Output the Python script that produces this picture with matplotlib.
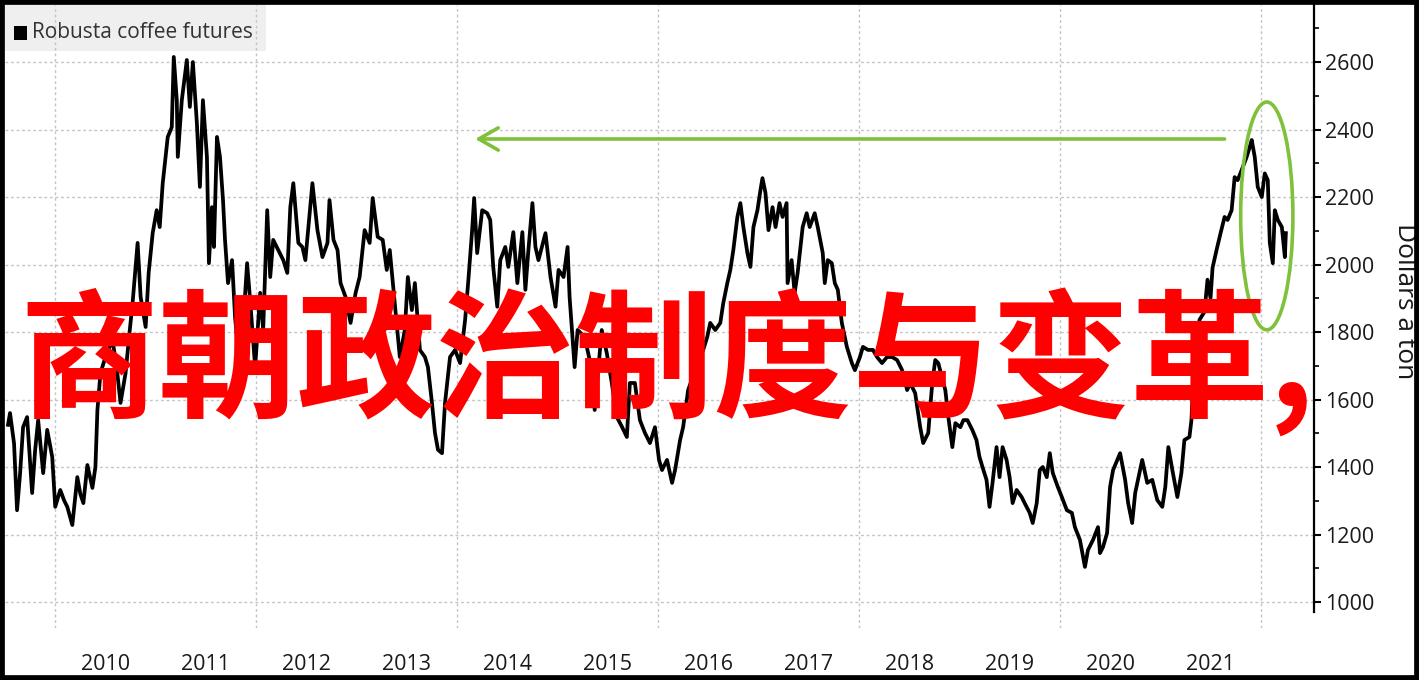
import matplotlib.pyplot as plt
from matplotlib.patches import Rectangle, Ellipse
from matplotlib.ticker import MultipleLocator

# ------------------------------
# 1. Data
# ------------------------------
years = [
    2009.53, 2009.55, 2009.59, 2009.62, 2009.65, 2009.68, 2009.72, 2009.77, 2009.80, 2009.83,
    2009.88, 2009.92, 2009.97, 2010.00, 2010.05, 2010.09, 2010.12, 2010.17, 2010.22, 2010.25,
    2010.28, 2010.32, 2010.37, 2010.40, 2010.42, 2010.45, 2010.50, 2010.57, 2010.61, 2010.65,
    2010.70, 2010.74, 2010.77, 2010.82, 2010.85, 2010.90, 2010.93, 2010.97, 2011.01, 2011.04,
    2011.07, 2011.12, 2011.16, 2011.18, 2011.21, 2011.22, 2011.26, 2011.31, 2011.34, 2011.37,
    2011.41, 2011.44, 2011.47, 2011.51, 2011.53, 2011.56, 2011.58, 2011.61, 2011.64, 2011.67,
    2011.69, 2011.72, 2011.76, 2011.79, 2011.82, 2011.87, 2011.91, 2011.94, 2011.99, 2012.04,
    2012.07, 2012.11, 2012.14, 2012.17, 2012.22, 2012.27, 2012.31, 2012.34, 2012.37, 2012.42,
    2012.46, 2012.49, 2012.56, 2012.61, 2012.66, 2012.71, 2012.73, 2012.77, 2012.81, 2012.84,
    2012.89, 2012.94, 2012.99, 2013.03, 2013.08, 2013.13, 2013.16, 2013.21, 2013.26, 2013.30,
    2013.33, 2013.38, 2013.43, 2013.48, 2013.51, 2013.55, 2013.58, 2013.63, 2013.68, 2013.71,
    2013.75, 2013.78, 2013.81, 2013.85, 2013.88, 2013.93, 2013.98, 2014.03, 2014.08, 2014.11,
    2014.15, 2014.17, 2014.20, 2014.25, 2014.30, 2014.33, 2014.36, 2014.40, 2014.43, 2014.48,
    2014.51, 2014.56, 2014.60, 2014.65, 2014.68, 2014.71, 2014.75, 2014.78, 2014.81, 2014.88,
    2014.93, 2014.98, 2015.01, 2015.06, 2015.10, 2015.12, 2015.17, 2015.20, 2015.27, 2015.32,
    2015.37, 2015.44, 2015.49, 2015.54, 2015.59, 2015.64, 2015.69, 2015.72, 2015.77, 2015.82,
    2015.87, 2015.92, 2015.97, 2016.01, 2016.04, 2016.09, 2016.14, 2016.17, 2016.22, 2016.25,
    2016.30, 2016.37, 2016.45, 2016.49, 2016.52, 2016.57, 2016.62, 2016.65, 2016.69, 2016.72,
    2016.75, 2016.79, 2016.82, 2016.85, 2016.89, 2016.92, 2016.95, 2016.99, 2017.02, 2017.04,
    2017.07, 2017.10, 2017.14, 2017.17, 2017.21, 2017.24, 2017.28, 2017.29, 2017.33, 2017.36,
    2017.39, 2017.44, 2017.48, 2017.51, 2017.56, 2017.59, 2017.64, 2017.66, 2017.69, 2017.73,
    2017.76, 2017.79, 2017.83, 2017.88, 2017.93, 2017.96, 2018.01, 2018.04, 2018.09, 2018.14,
    2018.18, 2018.23, 2018.28, 2018.33, 2018.38, 2018.43, 2018.48, 2018.51, 2018.56, 2018.61,
    2018.64, 2018.69, 2018.73, 2018.76, 2018.79, 2018.86, 2018.89, 2018.93, 2018.96, 2019.01,
    2019.04, 2019.08, 2019.13, 2019.17, 2019.20, 2019.23, 2019.27, 2019.30, 2019.33, 2019.37,
    2019.40, 2019.43, 2019.47, 2019.50, 2019.53, 2019.57, 2019.62, 2019.65, 2019.70, 2019.73,
    2019.77, 2019.80, 2019.83, 2019.87, 2019.90, 2019.93, 2019.98, 2020.02, 2020.07, 2020.12,
    2020.15, 2020.20, 2020.25, 2020.28, 2020.33, 2020.38, 2020.40, 2020.43, 2020.47, 2020.50,
    2020.53, 2020.60, 2020.65, 2020.68, 2020.72, 2020.75, 2020.82, 2020.87, 2020.92, 2020.97,
    2021.02, 2021.05, 2021.08, 2021.12, 2021.17, 2021.21, 2021.24, 2021.29, 2021.31, 2021.34,
    2021.39, 2021.44, 2021.47, 2021.50, 2021.52, 2021.56, 2021.60, 2021.64, 2021.67, 2021.71,
    2021.74, 2021.77, 2021.81, 2021.86, 2021.89, 2021.91, 2021.94, 2021.97, 2022.01, 2022.04,
    2022.07, 2022.09, 2022.12, 2022.14, 2022.17, 2022.21, 2022.24, 2022.25,
]

prices = [
    1525, 1560, 1470, 1272, 1380, 1518, 1548, 1323, 1450, 1539,
    1382, 1510, 1430, 1282, 1332, 1300, 1282, 1228, 1370, 1320,
    1293, 1406, 1338, 1400, 1569, 1678, 1726, 1776, 1700, 1590,
    1678, 1800, 1886, 2064, 1904, 1815, 1975, 2093, 2161, 2111,
    2241, 2378, 2407, 2615, 2487, 2319, 2487, 2606, 2467, 2600,
    2419, 2230, 2487, 2319, 2004, 2170, 2052, 2378, 2319, 2191,
    2073, 1945, 2013, 1844, 1747, 1820, 2004, 1895, 1696, 1916,
    1806, 2161, 1963, 2073, 2043, 2013, 1975, 2170, 2241, 2064,
    2052, 2013, 2241, 2102, 2022, 2064, 2191, 2073, 2043, 1945,
    1904, 1827, 1916, 1963, 2102, 2064, 2197, 2082, 2073, 1984,
    2043, 1886, 1726, 1806, 1963, 1865, 1945, 1747, 1726, 1696,
    1590, 1501, 1451, 1441, 1590, 1726, 1747, 1708, 1836, 1945,
    2102, 2197, 2034, 2161, 2152, 2132, 1993, 1875, 2013, 2052,
    1993, 2096, 1945, 2096, 1925, 2043, 2182, 2052, 2013, 2093,
    1963, 1875, 1984, 1963, 2052, 1904, 1696, 1806, 1785, 1717,
    1569, 1806, 1738, 1649, 1548, 1520, 1489, 1649, 1649, 1539,
    1501, 1471, 1518, 1421, 1391, 1421, 1353, 1391, 1480, 1518,
    1628, 1687, 1747, 1785, 1827, 1806, 1827, 1886, 1945, 1984,
    2043, 2141, 2182, 2111, 2034, 1993, 2111, 2161, 2221, 2256,
    2212, 2102, 2170, 2111, 2182, 2141, 2182, 1945, 2013, 1916,
    1975, 2111, 2152, 2111, 2152, 2111, 2034, 1945, 2013, 2004,
    1945, 1925, 1827, 1756, 1708, 1687, 1726, 1756, 1747, 1747,
    1726, 1708, 1726, 1726, 1717, 1687, 1628, 1649, 1619, 1518,
    1471, 1501, 1649, 1717, 1708, 1628, 1548, 1459, 1530, 1518,
    1539, 1539, 1509, 1480, 1430, 1400, 1362, 1282, 1353, 1459,
    1370, 1459, 1421, 1370, 1293, 1332, 1311, 1293, 1264, 1234,
    1293, 1391, 1400, 1370, 1441, 1382, 1341, 1311, 1272, 1264,
    1222, 1184, 1104, 1154, 1184, 1222, 1145, 1163, 1204, 1341,
    1391, 1441, 1362, 1293, 1234, 1323, 1421, 1353, 1362, 1302,
    1282, 1341, 1459, 1391, 1311, 1382, 1480, 1489, 1539, 1738,
    1836, 1860, 1955, 1900, 1990, 2043, 2093, 2141, 2132, 2161,
    2259, 2250, 2280, 2319, 2348, 2369, 2319, 2230, 2200, 2270,
    2250, 2064, 2004, 2161, 2132, 2111, 2022, 2093,
]

year_labels = ["2010", "2011", "2012", "2013", "2014", "2015",
               "2016", "2017", "2018", "2019", "2020", "2021"]
label_years = [2010.5, 2011.5, 2012.5, 2013.5, 2014.5, 2015.5,
               2016.5, 2017.5, 2018.5, 2019.5, 2020.5, 2021.5]
grid_years = [2010, 2012, 2014, 2016, 2018, 2020, 2022]
price_ticks = [1000, 1200, 1400, 1600, 1800, 2000, 2200, 2400, 2600]

# annotation: arrow back to the 2014 level, ellipse around the latest peak
arrow_from = (2021.64, 2372)
arrow_to = (2014.18, 2372)
circle_center = (2022.06, 2144)
circle_w, circle_h = 0.52, 675

series_name = "Robusta coffee futures"
unit_label = "Dollars a ton"
overlay_text = "商朝政治制度与变革,"

# ------------------------------
# 2. Figure
# ------------------------------
plt.rcParams["font.family"] = ["Open Sans", "DejaVu Sans"]
W, H = 1419, 680
green = "#7fc13b"

fig = plt.figure(figsize=(W / 100, H / 100), dpi=100)
ax = fig.add_axes([5 / W, 1 - 628 / H, 1309 / W, 623 / H])

ax.plot(years, prices, color="black", lw=2.7, zorder=3)
ax.set_xlim(2009.50, 2022.53)
ax.set_ylim(923, 2769)

# dotted grid
for p in price_ticks:
    ax.axhline(p, color="#c4c4c4", lw=1, ls=(0, (2, 2)), zorder=1)
for g in grid_years:
    ax.axvline(g, color="#c4c4c4", lw=1, ls=(0, (2, 2)), zorder=1)

# axes / ticks
for side in ["top", "left", "bottom"]:
    ax.spines[side].set_visible(False)
ax.spines["right"].set_linewidth(1.6)
ax.spines["right"].set_bounds(970, 2769)
ax.yaxis.tick_right()
ax.set_yticks(price_ticks)
ax.yaxis.set_minor_locator(MultipleLocator(100))
ax.tick_params(axis="y", which="major", length=5, width=1.5, pad=3,
               labelsize=15.5, labelcolor="#1a1a1a")
ax.tick_params(axis="y", which="minor", length=3.5, width=1.2)
ax.set_xticks(label_years, year_labels)
ax.tick_params(axis="x", length=0, pad=19, labelsize=15.5, labelcolor="#1a1a1a")

fig.text(1405 / W, 1 - 301 / H, unit_label, rotation=270, ha="center",
         va="center", fontsize=19, color="#1a1a1a")

# legend box top-left
ax.add_patch(Rectangle((5 / W, 1 - 51 / H), 261 / W, 46 / H, transform=fig.transFigure,
                       facecolor="#efefef", edgecolor="none", zorder=0.5, clip_on=False))
fig.add_artist(Rectangle((14 / W, 1 - 40 / H), 13 / W, 14 / H, transform=fig.transFigure,
                         facecolor="black", edgecolor="none"))
fig.text(32 / W, 1 - 33 / H, series_name, ha="left", va="center", fontsize=15, color="#333333")

# green arrow + ellipse
ax.annotate("", xy=arrow_to, xytext=arrow_from, zorder=4,
            arrowprops=dict(arrowstyle="->,head_length=0.7,head_width=0.4", color=green,
                            lw=2.6, shrinkA=0, shrinkB=0, mutation_scale=20))
ax.add_patch(Ellipse(circle_center, circle_w, circle_h, fill=False,
                     edgecolor=green, lw=2.6, zorder=4))

# big red overlay
fig.text(0.470, 1 - 362 / H, overlay_text, fontsize=100, color="#ff0000", fontweight="bold",
         family=["Noto Sans CJK SC", "DejaVu Sans"], ha="center", va="center", zorder=5)

# black frame
fig.add_artist(Rectangle((0, 0), 1, 1, transform=fig.transFigure, fill=False,
                         edgecolor="black", lw=7, zorder=10))

fig.savefig("out.png", dpi=100)
